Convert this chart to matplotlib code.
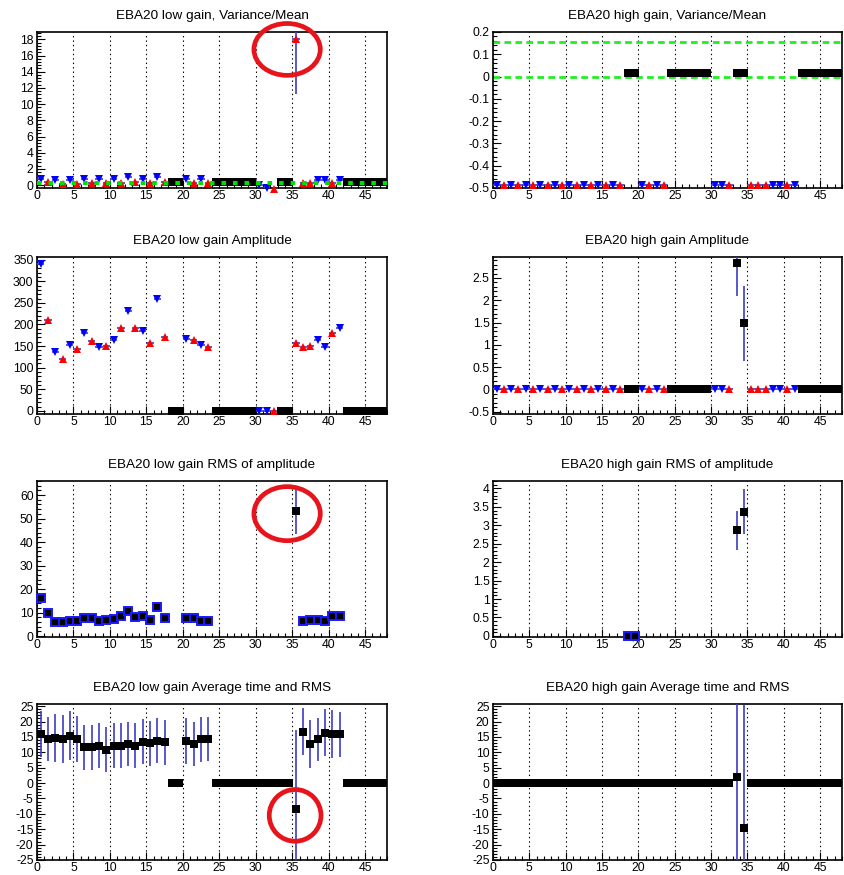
import numpy as np
import matplotlib
matplotlib.use("Agg")
import matplotlib.pyplot as plt
from matplotlib.ticker import MultipleLocator, FuncFormatter
from matplotlib.patches import Ellipse

plt.rcParams['font.family'] = ['Liberation Sans', 'DejaVu Sans']
plt.rcParams['axes.unicode_minus'] = False
plt.rcParams['lines.scale_dashes'] = False

N_CH = 48
channels = np.arange(N_CH)
# marker class per channel: B = blue down-triangle, R = red up-triangle, K = black square
ch_type = list("BRBRBRBRBRBRBRBRBR" "KK" "BRBR" "KKKKKK" "BB" "R" "KK" "RRR" "BB" "R" "B" "KKKKKK")
nan = np.nan

titles = ["EBA20 low gain, Variance/Mean", "EBA20 high gain, Variance/Mean",
          "EBA20 low gain Amplitude", "EBA20 high gain Amplitude",
          "EBA20 low gain RMS of amplitude", "EBA20 high gain RMS of amplitude",
          "EBA20 low gain Average time and RMS", "EBA20 high gain Average time and RMS"]

# Panel 1: low gain variance/mean
lg_varmean = [0.8, 0.4, 0.6, 0.2, 0.6, 0.2, 0.7, 0.3, 0.7, 0.3, 0.7, 0.3, 1.0, 0.35, 0.7, 0.3, 1.0, 0.35,
              0.35, 0.35, 0.7, 0.3, 0.7, 0.3, 0.35, 0.35, 0.35, 0.35, 0.35, 0.35, 0.0, -0.3, -0.45,
              0.35, 0.35, 18.0, 0.3, 0.3, 0.6, 0.6, 0.3, 0.6, 0.35, 0.35, 0.35, 0.35, 0.35, 0.35]
lg_varmean_err = [0.0] * 35 + [6.7] + [0.0] * 12
lg_varmean_ref = 0.3
# Panel 2: high gain variance/mean
hg_varmean = [0.015 if t == 'K' else -0.485 for t in ch_type]
hg_varmean_refs = [0.155, 0.0]
# Panel 3: low gain amplitude
lg_amp = [340, 210, 137, 121, 152, 144, 181, 162, 148, 150, 163, 192, 230, 192, 185, 158, 258, 170,
          0, 0, 167, 165, 152, 147, 0, 0, 0, 0, 0, 0, 0, 0, 0,
          0, 0, 158, 147, 150, 163, 148, 180, 192, 0, 0, 0, 0, 0, 0]
# Panel 4: high gain amplitude
hg_amp = [0.0] * 33 + [2.84, 1.48] + [0.0] * 13
hg_amp_err = [0.0] * 33 + [0.74, 0.85] + [0.0] * 13
# Panel 5: low gain RMS of amplitude
lg_rms = [16.0, 9.8, 5.8, 5.8, 6.5, 6.5, 7.6, 7.7, 6.3, 7.0, 7.2, 8.5, 10.6, 8.3, 8.4, 6.8, 12.3, 7.6,
          nan, nan, 7.8, 7.8, 6.3, 6.3] + [nan] * 11 + [53.4, 6.2, 7.0, 7.0, 6.5, 8.5, 8.6] + [nan] * 6
lg_rms_err = [0.0] * 35 + [10.0] + [0.0] * 12
# Panel 6: high gain RMS of amplitude
hg_rms = [nan] * 18 + [0.0, 0.0] + [nan] * 13 + [2.86, 3.37] + [nan] * 13
hg_rms_err = [0.0] * 33 + [0.52, 0.6] + [0.0] * 13
# Panel 7: low gain average time and RMS
lg_time = [15.9, 14.3, 14.8, 14.3, 15.4, 14.3, 11.6, 11.6, 12.2, 10.8, 12.2, 12.2, 12.7, 12.2, 13.5, 13.0,
           13.8, 13.2, 0, 0, 13.8, 12.7, 14.3, 14.3] + [0] * 11 + [-8.3, 16.7, 12.7, 14.3, 16.4, 15.9, 15.9] + [0] * 6
lg_time_rms = [7.5, 7.2, 7.8, 7.8, 7.9, 7.5, 7.3, 7.3, 7.3, 7.3, 7.3, 7.3, 7.0, 7.3, 7.2, 7.3, 7.2, 7.3,
               0, 0, 7.5, 7.0, 7.3, 7.2] + [0] * 11 + [25.5, 7.6, 7.7, 7.0, 7.7, 7.8, 7.3] + [0] * 6
# Panel 8: high gain average time and RMS
hg_time = [0.0] * 33 + [2.0, -14.5] + [0.0] * 13
hg_time_rms = [0.0] * 33 + [40.0, 40.0] + [0.0] * 13

ylims = [(-0.35, 18.9), (-0.5, 0.2), (-7, 356), (-0.55, 2.97),
         (-0.4, 66), (-0.03, 4.2), (-25, 25.7), (-25, 25.7)]
ymajor = [2, 0.1, 50, 0.5, 10, 0.5, 5, 5]

# ellipses: (panel, cx, cy, w, h) in data units
ellipses = [(0, 34.3, 16.75, 9.1, 6.4), (4, 34.3, 52.1, 9.1, 23.0), (6, 35.4, -10.5, 7.1, 16.8)]

W, H = 845, 875
fig = plt.figure(figsize=(W / 100, H / 100), dpi=100)
col_x = [(37, 387), (493, 842)]
row_y = [(32, 188), (257, 414), (481, 637), (704, 860)]

BLUE = '#0000ff'
RED = '#ff0000'
ERRC = '#3c3cc4'
STYLE = {'B': ('v', BLUE, 6.3), 'R': ('^', RED, 5.6), 'K': ('s', 'black', 5.4)}

xc = channels + 0.5


def draw_points(ax, idx, vals, errs, marker, color, ms, mec=None, mew=0.0, xerr=0.5):
    if len(idx) == 0:
        return
    xs = xc[idx]
    ys = np.asarray(vals, dtype=float)[idx]
    es = np.asarray(errs, dtype=float)[idx]
    ax.errorbar(xs, ys, yerr=es, xerr=xerr, fmt='none', ecolor=ERRC, elinewidth=1.2,
                capsize=0, zorder=3)
    ax.plot(xs, ys, linestyle='none', marker=marker, color=color, ms=ms,
            mec=mec if mec else color, mew=mew, clip_on=False, zorder=4)


def draw_typed(ax, vals, errs):
    v = np.asarray(vals, dtype=float)
    for t, (m, c, ms) in STYLE.items():
        idx = np.array([i for i in range(N_CH) if ch_type[i] == t and not np.isnan(v[i])], dtype=int)
        draw_points(ax, idx, vals, errs, m, c, ms)


fmt = FuncFormatter(lambda v, p: '0' if abs(v) < 1e-9 else ('%g' % round(v, 6)))

axes = []
for k in range(8):
    r, c = divmod(k, 2)
    x0, x1 = col_x[c]
    yt, yb = row_y[r]
    ax = fig.add_axes([x0 / W, 1 - yb / H, (x1 - x0) / W, (yb - yt) / H])
    axes.append(ax)
    ax.set_xlim(0, 48)
    ax.set_ylim(*ylims[k])
    ax.xaxis.set_major_locator(MultipleLocator(5))
    ax.xaxis.set_minor_locator(MultipleLocator(1))
    ax.yaxis.set_major_locator(MultipleLocator(ymajor[k]))
    ax.yaxis.set_minor_locator(MultipleLocator(ymajor[k] / 5))
    ax.yaxis.set_major_formatter(fmt)
    ax.xaxis.set_major_formatter(fmt)
    ax.tick_params(axis='both', which='both', direction='in', top=False, right=False,
                   labelsize=8.8, width=0.8)
    ax.tick_params(axis='both', which='major', length=5.5)
    ax.tick_params(axis='both', which='minor', length=3)
    ax.tick_params(axis='y', pad=2.5)
    ax.tick_params(axis='x', pad=1.5)
    ax.xaxis.grid(True, which='major', linestyle=(0, (1, 2.2)), color='black', linewidth=0.8)
    ax.set_axisbelow(True)
    for s in ax.spines.values():
        s.set_linewidth(1.2)
    ax.annotate(titles[k], xy=(0.5, 1.0), xycoords='axes fraction', xytext=(0, 11.5),
                textcoords='offset points', ha='center', va='center', fontsize=9.7)

zeros = [0.0] * N_CH

# Panel 1
draw_typed(axes[0], lg_varmean, lg_varmean_err)
axes[0].axhline(lg_varmean_ref, color='#00e000', lw=2.9, dashes=(3.3, 5.0), zorder=5)
# Panel 2
for yv in hg_varmean_refs:
    axes[1].axhline(yv, color='#22ee22', lw=2.0, dashes=(4.8, 3.1), zorder=2)
draw_typed(axes[1], hg_varmean, zeros)
# Panel 3
draw_typed(axes[2], lg_amp, zeros)
# Panel 4
draw_typed(axes[3], hg_amp, hg_amp_err)
# Panel 5
v5 = np.asarray(lg_rms, dtype=float)
e5 = np.asarray(lg_rms_err)
idx_small = np.array([i for i in range(N_CH) if not np.isnan(v5[i]) and e5[i] < 1], dtype=int)
idx_big = np.array([i for i in range(N_CH) if not np.isnan(v5[i]) and e5[i] >= 1], dtype=int)
draw_points(axes[4], idx_small, lg_rms, lg_rms_err, 's', 'black', 6.2, mec='#1a1aff', mew=1.4)
draw_points(axes[4], idx_big, lg_rms, lg_rms_err, 's', 'black', 5.6)
# Panel 6
v6 = np.asarray(hg_rms, dtype=float)
e6 = np.asarray(hg_rms_err)
idx_small = np.array([i for i in range(N_CH) if not np.isnan(v6[i]) and e6[i] < 0.1], dtype=int)
idx_big = np.array([i for i in range(N_CH) if not np.isnan(v6[i]) and e6[i] >= 0.1], dtype=int)
draw_points(axes[5], idx_small, hg_rms, hg_rms_err, 's', 'black', 6.2, mec='#1a1aff', mew=1.4)
draw_points(axes[5], idx_big, hg_rms, hg_rms_err, 's', 'black', 6.0)
# Panel 7
draw_points(axes[6], np.arange(N_CH), lg_time, lg_time_rms, 's', 'black', 6.0)
# Panel 8
draw_points(axes[7], np.arange(N_CH), hg_time, hg_time_rms, 's', 'black', 6.0)

for (k, cx, cy, w, h) in ellipses:
    axes[k].add_patch(Ellipse((cx, cy), w, h, fill=False, edgecolor='#e8141c', lw=3.4,
                              clip_on=False, zorder=10))

fig.savefig("out.png", dpi=100, facecolor='white')
